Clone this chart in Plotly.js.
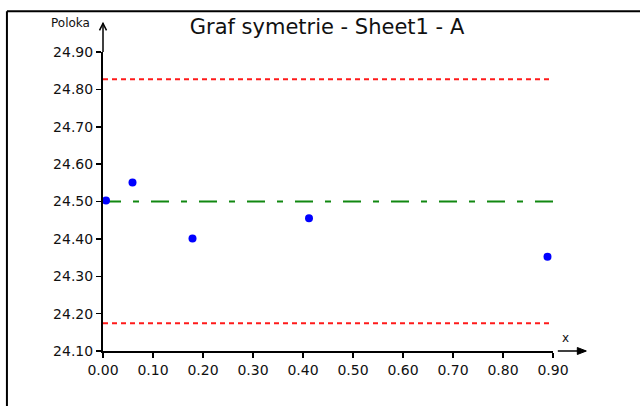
<!DOCTYPE html>
<html>
<head>
<meta charset="utf-8">
<script src="https://cdn.plot.ly/plotly-3.0.1.min.js"></script>
<style>html,body{margin:0;padding:0;background:#fff;}#chart{width:640px;height:406px;}</style>
</head>
<body>
<div id="chart"></div>
<script>
// ---- data ----
var pointX = [0.006, 0.059, 0.179, 0.412, 0.889];
var pointY = [24.503, 24.551, 24.401, 24.455, 24.352];
var meanValue = 24.50;
var upperLimit = 24.827;
var lowerLimit = 24.174;
var lineX = [0.0, 0.9];
var xTicks = [0, 0.1, 0.2, 0.3, 0.4, 0.5, 0.6, 0.7, 0.8, 0.9];
var yTicks = [24.1, 24.2, 24.3, 24.4, 24.5, 24.6, 24.7, 24.8, 24.9];
var titleText = "Graf symetrie - Sheet1 - A";
var yLabel = "Poloka";
var xLabel = "x";

// ---- layout geometry (pixels) ----
var L = 103, R = 552.7, T = 51.7, B = 351;
function px(X){ return (X - L) / (R - L); }
function py(Y){ return (B - Y) / (B - T); }

var fontFam = "DejaVu Sans, Liberation Sans, Arial, sans-serif";

var traces = [
  {x: lineX, y: [upperLimit, upperLimit], mode: 'lines', line: {color: '#ff1a1a', width: 2, dash: '5px,4px'}, hoverinfo: 'skip'},
  {x: lineX, y: [lowerLimit, lowerLimit], mode: 'lines', line: {color: '#ff1a1a', width: 2, dash: '5px,4px'}, hoverinfo: 'skip'},
  {x: lineX, y: [meanValue, meanValue], mode: 'lines', line: {color: '#118811', width: 2, dash: '18px,12px,6px,12px'}, hoverinfo: 'skip'},
  {x: pointX, y: pointY, mode: 'markers', marker: {color: '#0000ff', size: 8}, cliponaxis: false}
];

var shapes = [
  // outer frame (top and left)
  {type: 'line', xref: 'paper', yref: 'paper', x0: px(7), x1: px(645), y0: py(11), y1: py(11), line: {color: '#000', width: 2}},
  {type: 'line', xref: 'paper', yref: 'paper', x0: px(7), x1: px(7), y0: py(11), y1: py(410), line: {color: '#000', width: 2}},
  // y axis extension + arrowhead
  {type: 'line', xref: 'paper', yref: 'paper', x0: 0, x1: 0, y0: 1, y1: py(23), line: {color: '#000', width: 1.5}},
  {type: 'path', xref: 'paper', yref: 'paper',
   path: 'M' + px(99.5) + ',' + py(30) + ' L' + px(103) + ',' + py(23) + ' L' + px(106.5) + ',' + py(30),
   line: {color: '#000', width: 1.5}},
  // x axis arrow
  {type: 'line', xref: 'paper', yref: 'paper', x0: px(557.5), x1: px(585), y0: 0, y1: 0, line: {color: '#000', width: 1.5}},
  {type: 'path', xref: 'paper', yref: 'paper',
   path: 'M' + px(577) + ',' + py(347.5) + ' L' + px(586) + ',' + py(351) + ' L' + px(577) + ',' + py(354.5) + ' Z',
   fillcolor: '#000', line: {color: '#000', width: 1}}
];

var layout = {
  width: 640, height: 406,
  margin: {l: L, r: 640 - R, t: T, b: 406 - B, pad: 0},
  paper_bgcolor: '#fff', plot_bgcolor: '#fff',
  showlegend: false,
  title: {text: titleText, font: {family: fontFam, size: 21, color: '#111'}, x: 327 / 640, xanchor: 'center', y: 1 - 27 / 406, yanchor: 'middle'},
  xaxis: {
    range: [0, 0.9], tickvals: xTicks, tickformat: '.2f',
    showgrid: false, zeroline: false, showline: true, linecolor: '#000', linewidth: 2,
    ticks: 'outside', ticklen: 5, tickwidth: 1.5, tickcolor: '#000',
    tickfont: {family: fontFam, size: 14, color: '#111'}
  },
  yaxis: {
    range: [24.1, 24.9], tickvals: yTicks, tickformat: '.2f',
    showgrid: false, zeroline: false, showline: true, linecolor: '#000', linewidth: 2,
    ticks: 'outside', ticklen: 5, tickwidth: 1.5, tickcolor: '#000',
    tickfont: {family: fontFam, size: 14, color: '#111'}
  },
  shapes: shapes,
  annotations: [
    {text: yLabel, xref: 'paper', yref: 'paper', x: px(92), y: py(23), xanchor: 'right', yanchor: 'middle', showarrow: false, font: {family: fontFam, size: 12, color: '#111'}},
    {text: xLabel, xref: 'paper', yref: 'paper', x: px(565), y: py(338), xanchor: 'center', yanchor: 'middle', showarrow: false, font: {family: fontFam, size: 12, color: '#111'}}
  ]
};

Plotly.newPlot('chart', traces, layout, {staticPlot: true, displayModeBar: false});
</script>
</body>
</html>
